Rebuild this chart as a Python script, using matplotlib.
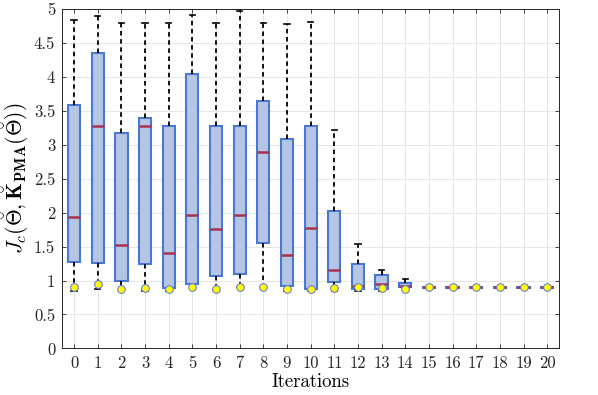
import numpy as np
import matplotlib
matplotlib.use("Agg")
from matplotlib import pyplot as plt

plt.rcParams["font.family"] = "serif"
plt.rcParams["font.serif"] = ["cmr10", "DejaVu Serif"]
plt.rcParams["mathtext.fontset"] = "cm"
plt.rcParams["axes.formatter.use_mathtext"] = True

iterations = list(range(21))
whisker_low = [0.85, 0.88, 0.87, 0.85, 0.85, 0.88, 0.86, 0.90, 0.88, 0.85, 0.85,
               0.85, 0.85, 0.85, 0.85, 0.89, 0.89, 0.89, 0.89, 0.89, 0.89]
q1 = [1.27, 1.26, 0.99, 1.24, 0.89, 0.95, 1.07, 1.09, 1.56, 0.92, 0.87,
      0.98, 0.88, 0.88, 0.91, 0.89, 0.89, 0.89, 0.89, 0.89, 0.89]
median = [1.94, 3.28, 1.52, 3.28, 1.41, 1.97, 1.76, 1.96, 2.89, 1.37, 1.77,
          1.16, 0.92, 0.95, 0.92, 0.90, 0.90, 0.90, 0.90, 0.90, 0.90]
q3 = [3.59, 4.35, 3.17, 3.40, 3.28, 4.04, 3.28, 3.28, 3.64, 3.08, 3.28,
      2.03, 1.24, 1.08, 0.96, 0.91, 0.91, 0.91, 0.91, 0.91, 0.91]
whisker_high = [4.84, 4.90, 4.80, 4.80, 4.79, 4.91, 4.80, 4.97, 4.80, 4.78, 4.81,
                3.22, 1.54, 1.15, 1.02, 0.91, 0.91, 0.91, 0.91, 0.91, 0.91]
mean = [0.91, 0.95, 0.88, 0.89, 0.88, 0.90, 0.87, 0.91, 0.90, 0.88, 0.88,
        0.89, 0.90, 0.89, 0.88, 0.90, 0.90, 0.90, 0.90, 0.90, 0.90]

stats = [
    dict(whislo=lo, q1=a, med=m, q3=b, whishi=hi, mean=mu, fliers=[])
    for lo, a, m, b, hi, mu in zip(whisker_low, q1, median, q3, whisker_high, mean)
]

fig, ax = plt.subplots(figsize=(5.98, 3.95), dpi=100)
fig.subplots_adjust(left=0.104, right=0.935, top=0.977, bottom=0.118)

ax.bxp(
    stats,
    positions=iterations,
    widths=0.52,
    patch_artist=True,
    showmeans=True,
    boxprops=dict(facecolor="#b4c6e4", edgecolor="#4a77d1", linewidth=1.5),
    medianprops=dict(color="#a8324f", linewidth=1.8),
    whiskerprops=dict(color="black", linestyle=(0, (2.5, 2)), linewidth=1.3),
    capprops=dict(color="black", linewidth=1.2),
    capwidths=0.22,
    meanprops=dict(marker="o", markerfacecolor="#ffff00", markeredgecolor="#6a7fd8",
                   markeredgewidth=0.8, markersize=5.5),
    zorder=3,
)

ax.set_xlim(-0.5, 20.5)
ax.set_ylim(0, 5)
ax.set_xticks(iterations)
ax.set_xticklabels([str(i) for i in iterations])
ax.set_yticks(np.arange(0, 5.01, 0.5))
ax.set_yticklabels(["0", "0.5", "1", "1.5", "2", "2.5", "3", "3.5", "4", "4.5", "5"])
ax.tick_params(direction="in", top=True, right=True, labelsize=12,
               length=3, width=0.6, colors="#262626", pad=5)
ax.grid(True, color="#e6e6e6", linewidth=0.7, zorder=0)
ax.set_axisbelow(True)
for s in ax.spines.values():
    s.set_color("#262626")
    s.set_linewidth(0.7)

ax.set_xlabel("Iterations", fontsize=13.5, labelpad=2)
ax.set_ylabel(r"$J_c(\breve{\Theta},\breve{\mathbf{K}}_{\mathbf{PMA}}(\breve{\Theta}))$",
              fontsize=15.5, labelpad=2)

fig.savefig("out.png", dpi=100)
